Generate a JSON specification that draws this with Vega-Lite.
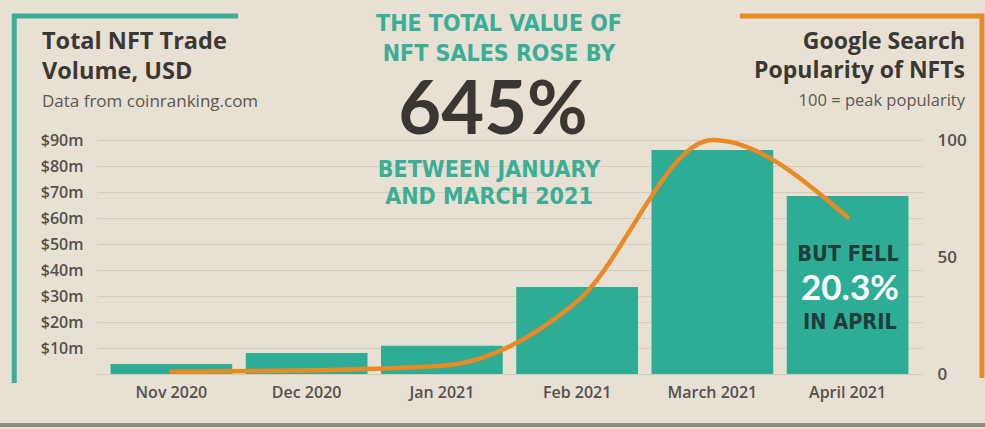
{
  "$schema": "https://vega.github.io/schema/vega-lite/v6.json",
  "width": 825,
  "height": 234,
  "autosize": {"type": "none"},
  "padding": {"left": 97, "top": 140, "right": 63, "bottom": 55},
  "background": "#E8E0D3",
  "config": {
    "view": {"stroke": null},
    "font": "Open Sans",
    "axis": {"labelFont": "Open Sans", "labelColor": "#55514C", "domain": false, "ticks": false}
  },
  "datasets": {
    "nft": [
      {"month": "Nov 2020", "volume": 3.8, "popularity": 1},
      {"month": "Dec 2020", "volume": 8.1, "popularity": 1.5},
      {"month": "Jan 2021", "volume": 10.9, "popularity": 3.5},
      {"month": "Feb 2021", "volume": 33.5, "popularity": 31},
      {"month": "March 2021", "volume": 86.2, "popularity": 100},
      {"month": "April 2021", "volume": 68.5, "popularity": 67}
    ]
  },
  "resolve": {"scale": {"x": "independent", "y": "independent"}},
  "layer": [
    {
      "data": {"name": "nft"},
      "resolve": {"scale": {"y": "independent"}},
      "layer": [
        {
          "mark": {"type": "bar", "color": "#2DAD96"},
          "encoding": {
            "x": {"field": "month", "type": "nominal", "sort": null,
                  "scale": {"paddingInner": 0.1, "paddingOuter": 0.1},
                  "axis": {"title": null, "labelAngle": 0, "labelFontSize": 16, "labelFontWeight": 600, "labelPadding": 10}},
            "y": {"field": "volume", "type": "quantitative",
                  "scale": {"domain": [0, 90], "nice": false},
                  "axis": {"orient": "left", "title": null, "values": [0, 10, 20, 30, 40, 50, 60, 70, 80, 90],
                           "labelExpr": "datum.value == 0 ? '' : '$' + datum.value + 'm'",
                           "grid": true, "gridColor": "#D5CCBE", "gridWidth": 1.2,
                           "labelFontSize": 16, "labelFontWeight": 600, "labelPadding": 14}}
          }
        },
        {
          "mark": {"type": "line", "color": "#E98A24", "strokeWidth": 4.5, "interpolate": "monotone", "strokeCap": "round"},
          "encoding": {
            "x": {"field": "month", "type": "nominal", "sort": null, "bandPosition": 0.5},
            "y": {"field": "popularity", "type": "quantitative",
                  "scale": {"domain": [0, 100], "nice": false},
                  "axis": {"orient": "right", "title": null, "values": [0, 50, 100], "grid": false,
                           "labelFontSize": 17, "labelFontWeight": 600, "labelPadding": 15, "labelAlign": "left"}}
          }
        }
      ]
    },
    {
      "data": {"values": [{}]},
      "layer": [
        {
          "mark": {"type": "rule", "color": "#3AAE96", "strokeWidth": 5},
          "encoding": {
            "x": {"datum": -0.611, "type": "quantitative", "scale": {"domain": [0, 6], "nice": false, "zero": false}, "axis": null},
            "x2": {"datum": 1.0255},
            "y": {"datum": 137.69, "type": "quantitative", "scale": {"domain": [0, 90], "nice": false, "zero": false}, "axis": null}
          }
        },
        {
          "mark": {"type": "rule", "color": "#3AAE96", "strokeWidth": 5},
          "encoding": {
            "x": {"datum": -0.602, "type": "quantitative", "scale": {"domain": [0, 6], "nice": false, "zero": false}, "axis": null},
            "y": {"datum": 138.6, "type": "quantitative", "scale": {"domain": [0, 90], "nice": false, "zero": false}, "axis": null},
            "y2": {"datum": -3.46}
          }
        },
        {
          "mark": {"type": "rule", "color": "#E98A24", "strokeWidth": 5},
          "encoding": {
            "x": {"datum": 4.676, "type": "quantitative", "scale": {"domain": [0, 6], "nice": false, "zero": false}, "axis": null},
            "x2": {"datum": 6.45},
            "y": {"datum": 137.69, "type": "quantitative", "scale": {"domain": [0, 90], "nice": false, "zero": false}, "axis": null}
          }
        },
        {
          "mark": {"type": "rule", "color": "#E98A24", "strokeWidth": 5},
          "encoding": {
            "x": {"datum": 6.436, "type": "quantitative", "scale": {"domain": [0, 6], "nice": false, "zero": false}, "axis": null},
            "y": {"datum": 138.6, "type": "quantitative", "scale": {"domain": [0, 90], "nice": false, "zero": false}, "axis": null},
            "y2": {"datum": -1.54}
          }
        },
        {
          "mark": {"type": "rule", "color": "#8E8982", "strokeWidth": 4},
          "encoding": {
            "x": {"datum": -0.72, "type": "quantitative", "scale": {"domain": [0, 6], "nice": false, "zero": false}, "axis": null},
            "x2": {"datum": 6.47},
            "y": {"datum": -19.6, "type": "quantitative", "scale": {"domain": [0, 90], "nice": false, "zero": false}, "axis": null}
          }
        },
        {
          "mark": {"type": "text", "text": ["Total NFT Trade", "Volume, USD"], "font": "Open Sans", "fontSize": 23.5, "fontWeight": "bold", "color": "#3B3834", "align": "left", "baseline": "alphabetic", "lineHeight": 30},
          "encoding": {
            "x": {"datum": -0.4, "type": "quantitative", "scale": {"domain": [0, 6], "nice": false, "zero": false}, "axis": null},
            "y": {"datum": 125.0, "type": "quantitative", "scale": {"domain": [0, 90], "nice": false, "zero": false}, "axis": null}
          }
        },
        {
          "mark": {"type": "text", "text": "Data from coinranking.com", "font": "Open Sans", "fontSize": 17, "color": "#5B5752", "align": "left", "baseline": "alphabetic"},
          "encoding": {
            "x": {"datum": -0.4, "type": "quantitative", "scale": {"domain": [0, 6], "nice": false, "zero": false}, "axis": null},
            "y": {"datum": 102.7, "type": "quantitative", "scale": {"domain": [0, 90], "nice": false, "zero": false}, "axis": null}
          }
        },
        {
          "mark": {"type": "text", "text": ["Google Search", "Popularity of NFTs"], "font": "Open Sans", "fontSize": 23, "fontWeight": "bold", "color": "#3B3834", "align": "right", "baseline": "alphabetic", "lineHeight": 29},
          "encoding": {
            "x": {"datum": 6.3127, "type": "quantitative", "scale": {"domain": [0, 6], "nice": false, "zero": false}, "axis": null},
            "y": {"datum": 125.0, "type": "quantitative", "scale": {"domain": [0, 90], "nice": false, "zero": false}, "axis": null}
          }
        },
        {
          "mark": {"type": "text", "text": "100 = peak popularity", "font": "Open Sans", "fontSize": 16.5, "color": "#5B5752", "align": "right", "baseline": "alphabetic"},
          "encoding": {
            "x": {"datum": 6.3127, "type": "quantitative", "scale": {"domain": [0, 6], "nice": false, "zero": false}, "axis": null},
            "y": {"datum": 103.1, "type": "quantitative", "scale": {"domain": [0, 90], "nice": false, "zero": false}, "axis": null}
          }
        },
        {
          "mark": {"type": "text", "text": ["THE TOTAL VALUE OF", "NFT SALES ROSE BY"], "font": "DejaVu Sans Condensed", "fontSize": 23, "fontWeight": "bold", "color": "#3AAE96", "align": "center", "baseline": "alphabetic", "lineHeight": 30},
          "encoding": {
            "x": {"datum": 2.9236, "type": "quantitative", "scale": {"domain": [0, 6], "nice": false, "zero": false}, "axis": null},
            "y": {"datum": 131.9, "type": "quantitative", "scale": {"domain": [0, 90], "nice": false, "zero": false}, "axis": null}
          }
        },
        {
          "mark": {"type": "text", "text": "645%", "font": "Lato", "fontSize": 74, "fontWeight": "bold", "color": "#3A3733", "align": "center", "baseline": "alphabetic"},
          "encoding": {
            "x": {"datum": 2.88, "type": "quantitative", "scale": {"domain": [0, 6], "nice": false, "zero": false}, "axis": null},
            "y": {"datum": 92.3, "type": "quantitative", "scale": {"domain": [0, 90], "nice": false, "zero": false}, "axis": null}
          }
        },
        {
          "mark": {"type": "text", "text": ["BETWEEN JANUARY", "AND MARCH 2021"], "font": "DejaVu Sans Condensed", "fontSize": 23, "fontWeight": "bold", "color": "#3AAE96", "align": "center", "baseline": "alphabetic", "lineHeight": 27},
          "encoding": {
            "x": {"datum": 2.851, "type": "quantitative", "scale": {"domain": [0, 6], "nice": false, "zero": false}, "axis": null},
            "y": {"datum": 75.77, "type": "quantitative", "scale": {"domain": [0, 90], "nice": false, "zero": false}, "axis": null}
          }
        },
        {
          "mark": {"type": "text", "text": "BUT FELL", "font": "DejaVu Sans Condensed", "fontSize": 21.5, "fontWeight": "bold", "color": "#1F3E3B", "align": "center", "baseline": "alphabetic"},
          "encoding": {
            "x": {"datum": 5.4618, "type": "quantitative", "scale": {"domain": [0, 6], "nice": false, "zero": false}, "axis": null},
            "y": {"datum": 43.6, "type": "quantitative", "scale": {"domain": [0, 90], "nice": false, "zero": false}, "axis": null}
          }
        },
        {
          "mark": {"type": "text", "text": "20.3%", "font": "Lato", "fontSize": 35, "fontWeight": "bold", "color": "#FFFFFF", "align": "center", "baseline": "alphabetic"},
          "encoding": {
            "x": {"datum": 5.476, "type": "quantitative", "scale": {"domain": [0, 6], "nice": false, "zero": false}, "axis": null},
            "y": {"datum": 28.46, "type": "quantitative", "scale": {"domain": [0, 90], "nice": false, "zero": false}, "axis": null}
          }
        },
        {
          "mark": {"type": "text", "text": "IN APRIL", "font": "DejaVu Sans Condensed", "fontSize": 21.5, "fontWeight": "bold", "color": "#1F3E3B", "align": "center", "baseline": "alphabetic"},
          "encoding": {
            "x": {"datum": 5.476, "type": "quantitative", "scale": {"domain": [0, 6], "nice": false, "zero": false}, "axis": null},
            "y": {"datum": 17.5, "type": "quantitative", "scale": {"domain": [0, 90], "nice": false, "zero": false}, "axis": null}
          }
        }
      ]
    }
  ]
}
